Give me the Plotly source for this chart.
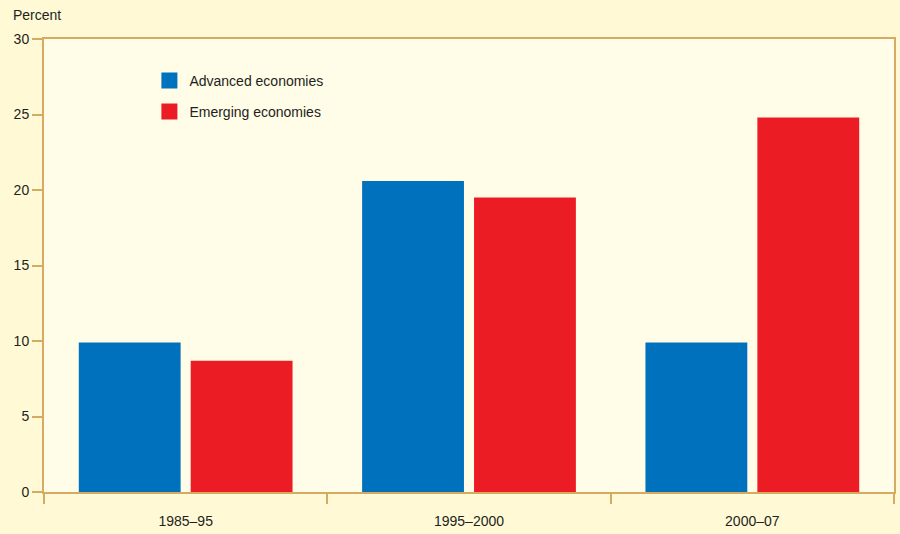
import plotly.graph_objects as go

categories = ["1985–95", "1995–2000", "2000–07"]
advanced = [9.9, 20.6, 9.9]
emerging = [8.7, 19.5, 24.8]
y_ticks = [0, 5, 10, 15, 20, 25, 30]

blue = "#0071BC"
red = "#EC1C24"
axis_col = "#D5AA62"
font = dict(family="Liberation Sans, Arial, sans-serif", size=14, color="#231F20")

fig = go.Figure()
fig.add_trace(go.Bar(x=categories, y=advanced, marker=dict(color=blue, line=dict(width=0)),
                     name="Advanced economies", showlegend=False))
fig.add_trace(go.Bar(x=categories, y=emerging, marker=dict(color=red, line=dict(width=0)),
                     name="Emerging economies", showlegend=False))
# legend entries
fig.add_trace(go.Scatter(x=[None], y=[None], mode="markers", name="Advanced economies",
                         marker=dict(symbol="square", size=16, color=blue), legendgroup="a"))
fig.add_trace(go.Scatter(x=[None], y=[None], mode="markers", name="Emerging economies",
                         marker=dict(symbol="square", size=16, color=red), legendgroup="b"))

fig.update_layout(
    width=900, height=534,
    margin=dict(l=44, r=6, t=39, b=42),
    paper_bgcolor="#FFF9D6",
    plot_bgcolor="#FFFCE8",
    font=font,
    barmode="group",
    bargap=0.21,
    bargroupgap=0.09,
    legend=dict(x=0.124, y=0.943, xanchor="left", yanchor="top", bgcolor="rgba(0,0,0,0)",
                tracegroupgap=10, traceorder="grouped", font=font),
    annotations=[dict(text="Percent", x=0, y=1, xref="paper", yref="paper", xshift=-33, yshift=14,
                      xanchor="left", yanchor="bottom", showarrow=False, font=font)],
)
fig.update_xaxes(type="category", showline=True, linecolor=axis_col, linewidth=2, mirror=True,
                 ticks="outside", tickson="boundaries", ticklen=10, tickcolor=axis_col, tickwidth=2,
                 ticklabelstandoff=15, showgrid=False, zeroline=False, automargin=False)
fig.update_yaxes(range=[0, 30], tickvals=y_ticks, showline=True, linecolor=axis_col, linewidth=2,
                 mirror=True, ticks="outside", ticklen=10, tickcolor=axis_col, tickwidth=2,
                 showgrid=False, zeroline=False, automargin=False)

fig.write_html("out.html")
